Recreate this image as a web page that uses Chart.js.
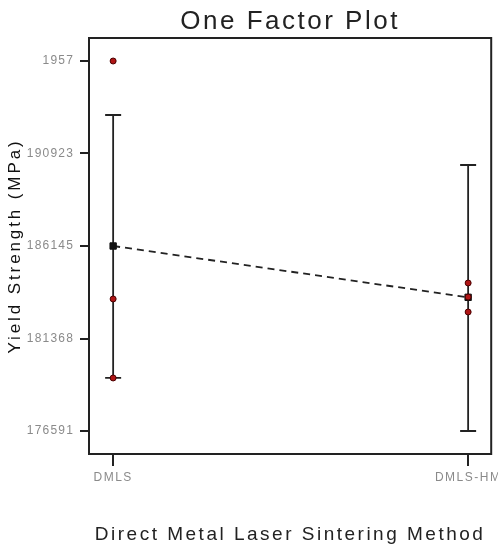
<!DOCTYPE html>
<html><head><meta charset="utf-8">
<script src="https://cdn.jsdelivr.net/npm/chart.js@4"></script>
<style>html,body{margin:0;padding:0;background:#fff;overflow:hidden;width:498px;height:548px}#wrap{width:501px;height:548px;position:relative}</style>
</head><body><div id="wrap"><canvas id="c"></canvas></div>
<script>
const categories = ['DMLS', 'DMLS-HM'];
const categoryPositions = [0, 1];
const obsDMLS = [195700, 183410, 179330];
const obsDMLSHM = [184235, 183512, 182737];
const means = [186145, 183495];
const ciLow = [179330, 176591];
const ciHigh = [192911, 190329];
const yTickValues = [176591, 181368, 186145, 190923, 195700];
const yTickLabels = ['176591', '181368', '186145', '190923', '1957'];

const FONT = "'Liberation Sans', Arial, sans-serif";

function withSpacing(obj, method, spacing) {
  if (!obj || obj['_sp_' + method]) return;
  const orig = obj[method];
  obj[method] = function (...args) {
    const ctx = this.ctx;
    const prev = ctx.letterSpacing;
    ctx.letterSpacing = spacing;
    try { return orig.apply(this, args); } finally { ctx.letterSpacing = prev || '0px'; }
  };
  obj['_sp_' + method] = true;
}

const spacingPlugin = {
  id: 'spacing',
  beforeDraw(chart) {
    withSpacing(chart.titleBlock, 'draw', '2.5px');
    withSpacing(chart.scales.x, 'drawTitle', '2.5px');
    withSpacing(chart.scales.x, 'drawLabels', '1.5px');
    withSpacing(chart.scales.y, 'drawTitle', '2.9px');
    withSpacing(chart.scales.y, 'drawLabels', '1.2px');
  }
};

const framePlugin = {
  id: 'frame',
  afterDraw(chart) {
    const a = chart.chartArea, ctx = chart.ctx;
    ctx.save();
    ctx.strokeStyle = '#222';
    ctx.lineWidth = 2;
    ctx.strokeRect(a.left, a.top, a.right - a.left, a.bottom - a.top);
    ctx.restore();
  }
};

const errDatasets = categoryPositions.map((p, i) => ({
  type: 'scatter',
  data: [{x: p, y: ciLow[i]}, {x: p, y: ciHigh[i]}],
  showLine: true,
  borderColor: '#222',
  borderWidth: 1.8,
  pointStyle: 'line',
  pointRadius: 8,
  pointBorderColor: '#222',
  pointBorderWidth: 1.8,
  order: 5
}));

const obsDataset = (vals, p) => ({
  type: 'scatter',
  data: vals.map(v => ({x: p, y: v})),
  showLine: false,
  pointStyle: 'circle',
  pointRadius: 3,
  backgroundColor: '#b01515',
  pointBackgroundColor: '#b01515',
  pointBorderColor: '#4a0000',
  pointBorderWidth: 1,
  order: 1
});

new Chart(document.getElementById('c'), {
  type: 'scatter',
  data: {
    datasets: [
      ...errDatasets,
      {
        type: 'scatter',
        data: categoryPositions.map((p, i) => ({x: p, y: means[i]})),
        showLine: true,
        borderColor: '#222',
        borderWidth: 1.8,
        borderDash: [7, 5],
        pointStyle: 'rect',
        pointRadius: 4.5,
        pointBackgroundColor: '#111',
        pointBorderColor: '#111',
        pointBorderWidth: 1,
        order: 3
      },
      obsDataset(obsDMLS, categoryPositions[0]),
      obsDataset(obsDMLSHM, categoryPositions[1])
    ]
  },
  options: {
    responsive: true,
    maintainAspectRatio: false,
    animation: false,
    layout: {padding: {left: 0, right: 7, top: 0, bottom: 0}},
    plugins: {
      legend: {display: false},
      tooltip: {enabled: false},
      title: {
        display: true,
        fullSize: false,
        text: 'One Factor Plot',
        color: '#222',
        font: {family: FONT, size: 26, weight: 'normal'},
        padding: {top: 6.4, bottom: 0.4}
      }
    },
    scales: {
      x: {
        type: 'linear',
        min: -0.068,
        max: 1.065,
        beforeFit(s) {
          s._calculatePadding = function () {
            this.paddingLeft = 0; this.paddingRight = 0; this.paddingTop = 0; this.paddingBottom = 0;
          };
        },
        afterFit(s) { s.height = 94; },
        afterBuildTicks(s) { s.ticks = categoryPositions.map(v => ({value: v})); },
        ticks: {
          callback: v => categories[categoryPositions.indexOf(v)],
          color: '#8a8a8a',
          font: {family: FONT, size: 12},
          padding: 4,
          maxRotation: 0,
          autoSkip: false
        },
        grid: {drawOnChartArea: false, drawTicks: true, tickLength: 12, color: '#222', lineWidth: 2},
        border: {display: false},
        title: {
          display: true,
          text: 'Direct Metal Laser Sintering Method',
          color: '#222',
          font: {family: FONT, size: 19},
          padding: {top: 0, bottom: 1.6}
        }
      },
      y: {
        type: 'linear',
        min: 175403,
        max: 196888,
        afterFit(s) { s.width = 89; },
        afterBuildTicks(s) { s.ticks = yTickValues.map(v => ({value: v})); },
        ticks: {
          callback: v => yTickLabels[yTickValues.indexOf(v)],
          color: '#8a8a8a',
          font: {family: FONT, size: 12},
          padding: 6,
          autoSkip: false
        },
        grid: {drawOnChartArea: false, drawTicks: true, tickLength: 9, color: '#222', lineWidth: 2},
        border: {display: false},
        title: {
          display: true,
          text: 'Yield Strength (MPa)',
          color: '#111',
          font: {family: FONT, size: 17},
          padding: {top: 5, bottom: 0}
        }
      }
    }
  },
  plugins: [spacingPlugin, framePlugin]
});
</script>
</body></html>
